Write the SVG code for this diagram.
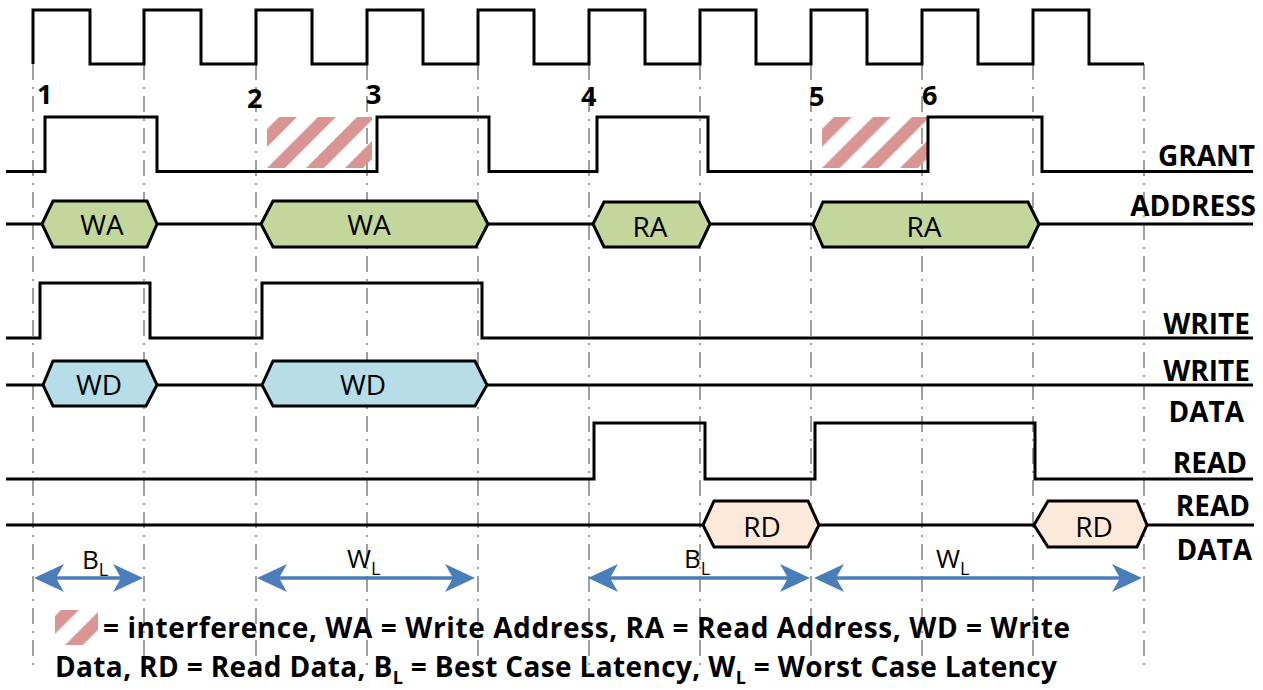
<svg xmlns="http://www.w3.org/2000/svg" width="1263" height="690" viewBox="0 0 1263 690">
  <style>
    .grid { stroke: #808080; stroke-width: 1.5; stroke-dasharray: 16 7 2 7; fill: none; }
    .sig { stroke: #000; stroke-width: 3; fill: none; stroke-linejoin: miter; }
    .bus { stroke: #000; stroke-width: 3; stroke-linejoin: miter; }
    .wa { fill: #c3d69b; }
    .wd { fill: #b7dde8; }
    .rd { fill: #fde9d9; }
    text { font-family: "Open Sans", Lato, "Liberation Sans", sans-serif; fill: #000; }
    .lbl { font-weight: 700; font-size: 28px; text-anchor: end; }
    .num { font-weight: 700; font-size: 27px; }
    .bt { font-size: 28px; text-anchor: middle; }
    .lat { font-size: 26px; }
    .sub { font-size: 18px; }
    .leg { font-weight: 700; font-size: 28px; }
    .arrow { stroke: #4a7ebb; stroke-width: 3.5; fill: none; marker-start: url(#stealth); marker-end: url(#stealth); }
  </style>
  <defs>
    <marker id="stealth" markerUnits="userSpaceOnUse" viewBox="0 0 30 28" markerWidth="30" markerHeight="28" refX="20" refY="14" orient="auto-start-reverse">
      <path d="M0,0 L30,14 L0,28 L8,14 Z" fill="#4a7ebb"/>
    </marker>
    <pattern id="hatchA" patternUnits="userSpaceOnUse" width="27.58" height="27.58" patternTransform="rotate(45)">
      <rect x="4.2" y="0" width="12.7" height="27.58" fill="#d99594"/>
    </pattern>
    <pattern id="hatchB" patternUnits="userSpaceOnUse" width="27.58" height="27.58" patternTransform="rotate(45)">
      <rect x="10.5" y="0" width="12.7" height="27.58" fill="#d99594"/>
    </pattern>
    <pattern id="hatchC" patternUnits="userSpaceOnUse" width="27.58" height="27.58" patternTransform="rotate(45)">
      <rect x="5.6" y="0" width="12.7" height="27.58" fill="#d99594"/>
    </pattern>
  </defs>

  <rect width="1263" height="690" fill="#fff"/>

  <!-- clock-edge reference lines -->
  <g id="gridlines">
    <line class="grid" x1="33" y1="64" x2="33" y2="665"/>
    <line class="grid" x1="144" y1="64" x2="144" y2="665"/>
    <line class="grid" x1="256" y1="64" x2="256" y2="665"/>
    <line class="grid" x1="367" y1="64" x2="367" y2="665"/>
    <line class="grid" x1="478" y1="64" x2="478" y2="665"/>
    <line class="grid" x1="589" y1="64" x2="589" y2="665"/>
    <line class="grid" x1="700" y1="64" x2="700" y2="665"/>
    <line class="grid" x1="811" y1="64" x2="811" y2="665"/>
    <line class="grid" x1="922" y1="64" x2="922" y2="665"/>
    <line class="grid" x1="1033" y1="64" x2="1033" y2="665"/>
    <line class="grid" x1="1144" y1="64" x2="1144" y2="665"/>
  </g>

  <!-- clock -->
  <g id="clock">
    <path class="sig" d="M33,64 V10 H90 V64 H144 V10 H201 V64 H256 V10 H312 V64 H367 V10 H423 V64 H478 V10 H534 V64 H589 V10 H645 V64 H700 V10 H756 V64 H811 V10 H867 V64 H922 V10 H978 V64 H1033 V10 H1089 V64 H1144"/>
  </g>

  <!-- cycle numbers -->
  <g id="cycle-numbers">
    <text class="num" x="37" y="104">1</text>
    <text class="num" x="247" y="108">2</text>
    <text class="num" x="366" y="104">3</text>
    <text class="num" x="581" y="106">4</text>
    <text class="num" x="809" y="106">5</text>
    <text class="num" x="922" y="105">6</text>
  </g>

  <!-- grant with interference windows -->
  <g id="grant">
    <rect x="267" y="117" width="105" height="51" fill="url(#hatchA)"/>
    <rect x="822" y="117" width="105" height="51" fill="url(#hatchB)"/>
    <path class="sig" d="M6,171.5 H45 V117 H157 V171.5 H377 V117 H489 V171.5 H597 V117 H708 V171.5 H928 V117 H1042 V171.5 H1253"/>
    <text class="lbl" x="1255" y="166">GRANT</text>
  </g>

  <!-- address bus -->
  <g id="address">
    <path class="sig" d="M6,224 H42 M157,224 H261 M488,224 H593 M710,224 H813 M1039,224 H1253"/>
    <polygon class="bus wa" points="42,224 53,201 147,201 157,224 147,247 53,247"/>
    <polygon class="bus wa" points="261,224 273,201 476,201 488,224 476,247 273,247"/>
    <polygon class="bus wa" points="593,224 604,202 699,202 710,224 699,247 604,247"/>
    <polygon class="bus wa" points="813,224 823,202 1028,202 1039,224 1028,247 823,247"/>
    <text class="bt" x="102" y="235">WA</text>
    <text class="bt" x="369" y="235">WA</text>
    <text class="bt" x="650" y="237">RA</text>
    <text class="bt" x="924" y="237">RA</text>
    <text class="lbl" x="1256" y="216">ADDRESS</text>
  </g>

  <!-- write strobe -->
  <g id="write">
    <path class="sig" d="M6,338 H40 V283 H150 V338 H262 V283 H482 V338 H1253"/>
    <text class="lbl" x="1250" y="334">WRITE</text>
  </g>

  <!-- write data bus -->
  <g id="write-data">
    <path class="sig" d="M6,385 H43 M157,385 H262 M487,385 H1253"/>
    <polygon class="bus wd" points="43,385 53,361 146,361 157,385 146,406 53,406"/>
    <polygon class="bus wd" points="262,385 273,361 475,361 487,385 475,406 273,406"/>
    <text class="bt" x="99" y="395">WD</text>
    <text class="bt" x="363" y="395">WD</text>
    <text class="lbl" x="1250" y="381">WRITE</text>
    <text class="lbl" x="1244" y="422">DATA</text>
  </g>

  <!-- read strobe -->
  <g id="read">
    <path class="sig" d="M6,479 H594 V423 H705 V479 H815 V423 H1035 V479 H1253"/>
    <text class="lbl" x="1247" y="473">READ</text>
  </g>

  <!-- read data bus -->
  <g id="read-data">
    <path class="sig" d="M6,525 H703 M819,525 H1034 M1147,525 H1254"/>
    <polygon class="bus rd" points="703,525 714,501 808,501 819,525 808,547 714,547"/>
    <polygon class="bus rd" points="1034,525 1048,501 1137,501 1147,525 1137,547 1048,547"/>
    <text class="bt" x="762" y="537">RD</text>
    <text class="bt" x="1094" y="537">RD</text>
    <text class="lbl" x="1250" y="516">READ</text>
    <text class="lbl" x="1252" y="560">DATA</text>
  </g>

  <!-- latency spans -->
  <g id="connectors">
    <line class="arrow" x1="44" y1="578" x2="133" y2="578"/>
    <line class="arrow" x1="267" y1="578" x2="465" y2="578"/>
    <line class="arrow" x1="598" y1="578" x2="800" y2="578"/>
    <line class="arrow" x1="824" y1="578" x2="1132" y2="578"/>
  </g>
  <g id="latency-labels">
    <text class="lat" x="82" y="569">B<tspan class="sub" dy="7">L</tspan></text>
    <text class="lat" x="347" y="568">W<tspan class="sub" dy="7">L</tspan></text>
    <text class="lat" x="684" y="568">B<tspan class="sub" dy="7">L</tspan></text>
    <text class="lat" x="936" y="568">W<tspan class="sub" dy="7">L</tspan></text>
  </g>

  <!-- key -->
  <g id="legend">
    <rect x="55" y="610" width="43" height="35" fill="url(#hatchC)"/>
    <text class="leg" x="103" y="638" textLength="967" lengthAdjust="spacing">= interference, WA = Write Address, RA = Read Address, WD = Write</text>
    <text class="leg" x="55" y="677" textLength="1002" lengthAdjust="spacing">Data, RD = Read Data, B<tspan class="sub" dy="7">L</tspan><tspan dy="-7"> = Best Case Latency, W</tspan><tspan class="sub" dy="7">L</tspan><tspan dy="-7"> = Worst Case Latency</tspan></text>
  </g>
</svg>
